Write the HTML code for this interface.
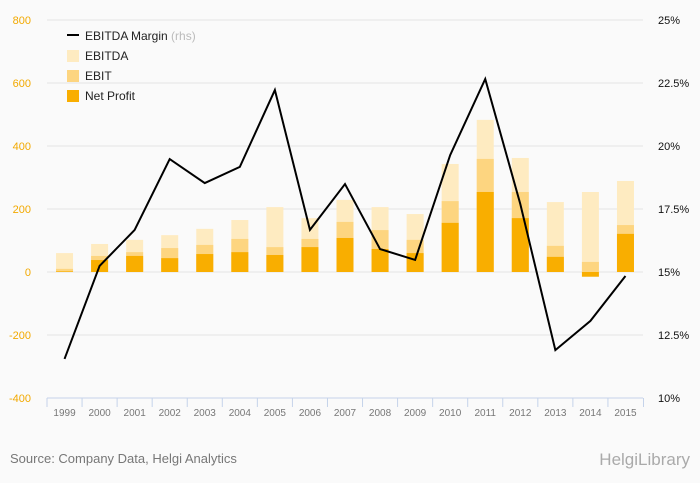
<!DOCTYPE html>
<html><head><meta charset="utf-8"><style>
body{margin:0;background:#fafafa;font-family:"Liberation Sans",sans-serif;}
svg{display:block}
</style></head><body>
<svg width="700" height="483" id="c" xmlns="http://www.w3.org/2000/svg">
<rect width="700" height="483" fill="#fafafa"/>
<g id="grid"></g><g id="bars"></g><g id="line"></g><g id="axes"></g>
<g font-size="12" fill="#222">
<line x1="67" y1="35" x2="79" y2="35" stroke="#000" stroke-width="2"/>
<text x="85" y="40">EBITDA Margin <tspan fill="#bbb">(rhs)</tspan></text>
<rect x="67" y="50" width="12" height="12" fill="#feebc1"/>
<text x="85" y="60">EBITDA</text>
<rect x="67" y="70" width="12" height="12" fill="#fdd580"/>
<text x="85" y="80">EBIT</text>
<rect x="67" y="90" width="12" height="12" fill="#f9ae00"/>
<text x="85" y="100">Net Profit</text>
</g>
<text x="10" y="463" font-size="13" fill="#777">Source: Company Data, Helgi Analytics</text>
<text x="690" y="465" font-size="17" fill="#aaa" text-anchor="end">HelgiLibrary</text>
</svg>
<script>
const years=["1999","2000","2001","2002","2003","2004","2005","2006","2007","2008","2009","2010","2011","2012","2013","2014","2015"];
const ebitda=[60,89,102,117,137,165,206,171,229,206,184,343,483,362,222,254,289];
const ebit=[10,51,63,76,86,105,79,105,159,133,102,225,359,254,83,32,149];
const netProfit=[2,38,51,44,57,63,54,79,108,73,60,156,254,171,48,-15,121];
const margin=[11.55,15.24,16.67,19.48,18.53,19.17,22.22,16.67,18.49,15.91,15.48,19.64,22.66,17.7,11.9,13.06,14.84];
const leftTicks=[-400,-200,0,200,400,600,800];
const rightTicks=[10,12.5,15,17.5,20,22.5,25];
const NS="http://www.w3.org/2000/svg";
const x0=47,x1=643,yTop=20,yBot=398;
const bw=(x1-x0)/years.length;
const yL=v=>yBot-(v+400)/1200*(yBot-yTop);
const yR=v=>yBot-(v-10)/15*(yBot-yTop);
const xC=i=>x0+bw*(i+0.5);
function mk(t,a,p){const e=document.createElementNS(NS,t);for(const k in a)e.setAttribute(k,a[k]);p.appendChild(e);return e;}
const g=document.getElementById('grid'),b=document.getElementById('bars'),l=document.getElementById('line'),ax=document.getElementById('axes');
leftTicks.forEach((v,i)=>{
 const ln=mk('line',{x1:x0,x2:x1,y1:yL(v),y2:yL(v),stroke:'#e4e4e4'},g);
 
 
 const t=mk('text',{x:31,y:yL(v)+4,'text-anchor':'end','font-size':11,fill:'#f2a900'},ax);t.textContent=v;
 
 
});
rightTicks.forEach(v=>{
 const t=mk('text',{x:658,y:yR(v)+4,'font-size':11,fill:'#111'},ax);t.textContent=v+'%';
 
 
});
const xa=mk('line',{x1:x0,x2:x1,y1:yBot,y2:yBot,stroke:'#c5d3ea'},ax);


years.forEach((y,i)=>{
 const tk=mk('line',{x1:x0+bw*i,x2:x0+bw*i,y1:yBot,y2:yBot+9,stroke:'#c5d3ea'},ax);
 
 
 const t=mk('text',{x:xC(i),y:yBot+18,'text-anchor':'middle','font-size':10,fill:'#777'},ax);t.textContent=y;
 
 
 [[ebitda[i],'#feebc1','bar-ebitda'],[ebit[i],'#fdd580','bar-ebit'],[netProfit[i],'#f9ae00','bar-net-profit']].forEach(([v,c,n])=>{
  const top=Math.min(yL(v),yL(0)),h=Math.abs(yL(v)-yL(0));
  const r=mk('rect',{x:xC(i)-8.5,y:top,width:17,height:h,fill:c},b);
  
  
 });
});
const e=mk('rect',{x:x1,y:yBot,width:1,height:9,fill:'#c5d3ea'},ax);


const pl=mk('polyline',{points:margin.map((v,i)=>xC(i)+','+yR(v)).join(' '),fill:'none',stroke:'#000','stroke-width':2},l);


</script>
</body></html>
